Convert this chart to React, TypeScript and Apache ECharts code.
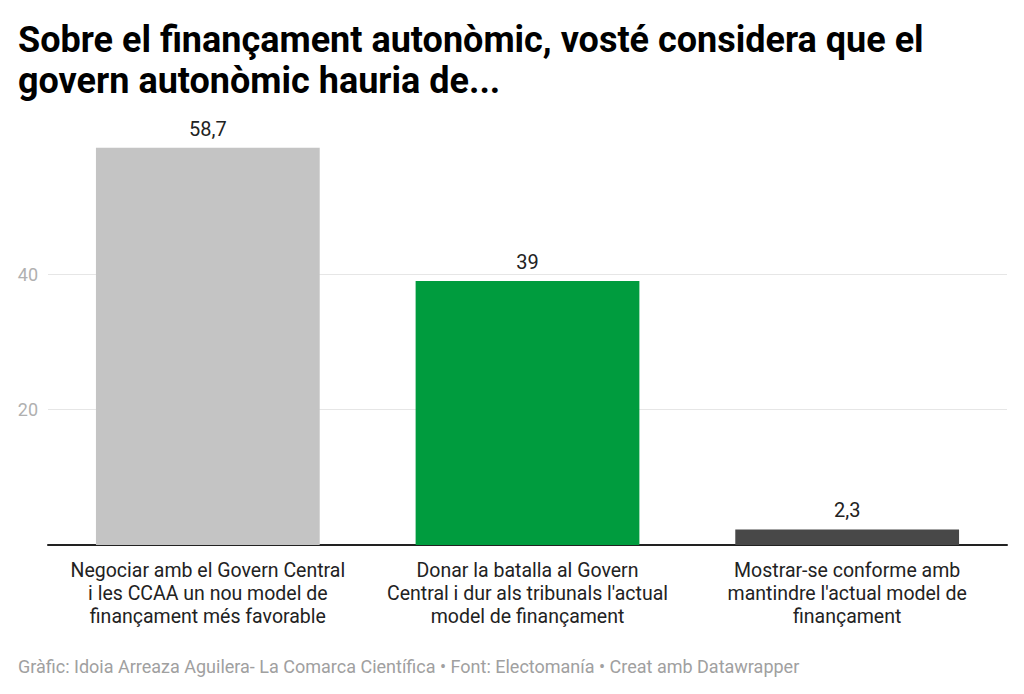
import React, { useEffect, useRef } from "react";
import * as echarts from "echarts";

const titleText = "Sobre el finançament autonòmic, vosté considera que el\ngovern autonòmic hauria de...";
const footerText = "Gràfic: Idoia Arreaza Aguilera- La Comarca Científica • Font: Electomanía • Creat amb Datawrapper";
const categories = [
  "Negociar amb el Govern Central\ni les CCAA un nou model de\nfinançament més favorable",
  "Donar la batalla al Govern\nCentral i dur als tribunals l'actual\nmodel de finançament",
  "Mostrar-se conforme amb\nmantindre l'actual model de\nfinançament",
];
const values = [58.7, 39, 2.3];
const colors = ["#c4c4c4", "#009c3e", "#484848"];

export default function App() {
  const ref = useRef<HTMLDivElement>(null);
  useEffect(() => {
    document.body.style.margin = "0";
    if (!ref.current) return;
    const chart = echarts.init(ref.current, null, { renderer: "svg" });
    chart.setOption({
      animation: false,
      backgroundColor: "#ffffff",
      textStyle: { fontFamily: "Roboto" },
      title: {
        text: titleText,
        left: 13,
        top: 14,
        textStyle: { fontFamily: "Roboto", fontWeight: "bold", fontSize: 36, lineHeight: 41, color: "#000" },
      },
      graphic: [
        {
          type: "text",
          left: 18,
          top: 657,
          style: { text: footerText, fontFamily: "Roboto", fontSize: 18, fill: "#a0a0a0" },
        },
      ],
      grid: { left: 48, right: 17, top: 139, bottom: 149 },
      xAxis: {
        type: "category",
        data: categories,
        axisLine: { lineStyle: { color: "#222", width: 2 } },
        axisTick: { show: false },
        axisLabel: { fontFamily: "Roboto", fontSize: 19.5, lineHeight: 23, color: "#222", margin: 14, interval: 0 },
      },
      yAxis: {
        type: "value",
        min: 0,
        max: 60,
        interval: 20,
        axisLine: { show: false },
        axisTick: { show: false },
        axisLabel: { showMinLabel: false, showMaxLabel: false, fontFamily: "Roboto", fontSize: 18, color: "#b0b0b0", margin: 10 },
        splitLine: { showMinLine: false, showMaxLine: false, lineStyle: { color: "#e6e6e6", width: 1 } },
      },
      series: [
        {
          type: "bar",
          barWidth: "70%",
          data: values.map((v, i) => ({ value: v, itemStyle: { color: colors[i] } })),
          label: {
            show: true,
            position: "top",
            distance: 9,
            fontFamily: "Roboto",
            fontSize: 20,
            color: "#222",
            formatter: (p: any) => String(p.value).replace(".", ","),
          },
        },
      ],
    });
    return () => chart.dispose();
  }, []);
  return <div ref={ref} style={{ width: 1024, height: 694 }} />;
}
